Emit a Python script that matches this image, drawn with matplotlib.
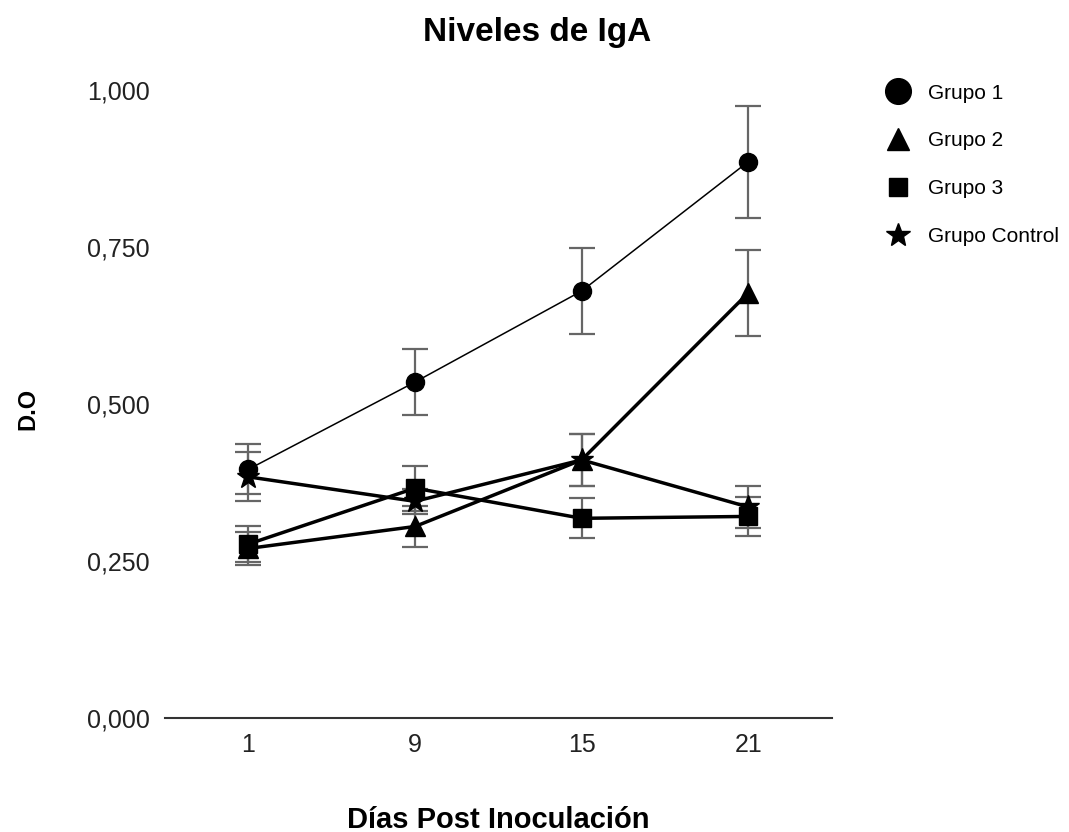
import matplotlib
matplotlib.use("Agg")
import matplotlib.pyplot as plt
from matplotlib.lines import Line2D
import numpy as np

plt.rcParams['font.family'] = ['Liberation Sans', 'DejaVu Sans']

days = ["1", "9", "15", "21"]
g1 = [0.396, 0.535, 0.680, 0.886]
g1_err = [0.040, 0.052, 0.068, 0.089]
g2 = [0.270, 0.305, 0.411, 0.677]
g2_err = [0.026, 0.032, 0.041, 0.068]
g3 = [0.277, 0.366, 0.318, 0.321]
g3_err = [0.028, 0.036, 0.032, 0.031]
gc = [0.384, 0.345, 0.411, 0.336]
gc_err = [0.039, 0.020, 0.041, 0.033]
y_ticks = [0.0, 0.25, 0.5, 0.75, 1.0]
labels = ["Grupo 1", "Grupo 2", "Grupo 3", "Grupo Control"]

fig = plt.figure(figsize=(10.69, 8.32), dpi=100)
ax = fig.add_axes([0.1544, 0.137, 0.6236, 0.7548])
x = np.arange(len(days))

series = [(g1, g1_err, 'o', 1.1, 13), (g2, g2_err, '^', 2.5, 15),
          (g3, g3_err, 's', 2.5, 13), (gc, gc_err, '*', 2.5, 17)]
for (vals, err, mk, lw, ms) in series:
    ax.errorbar(x, vals, yerr=err, fmt='none', ecolor='#666666', elinewidth=1.6,
                capsize=9.5, capthick=1.6, zorder=2)
    ax.plot(x, vals, color='black', lw=lw, marker=mk, markersize=ms, zorder=3)

ax.set_xlim(-0.5, 3.5)
ax.set_ylim(0, 1.0)
ax.set_xticks(x)
ax.set_xticklabels(days)
ax.set_yticks(y_ticks)
ax.set_yticklabels([f"{v:.3f}".replace('.', ',') for v in y_ticks])
for s in ['top', 'right', 'left']:
    ax.spines[s].set_visible(False)
ax.spines['bottom'].set_linewidth(1.5)
ax.spines['bottom'].set_color('#333333')
ax.tick_params(axis='both', length=0, labelsize=18, colors='#222222')
ax.tick_params(axis='y', pad=11)
ax.tick_params(axis='x', pad=11)

fig.text(0.5023, 0.961, "Niveles de IgA", ha='center', va='center',
         fontsize=24, fontweight='bold')
fig.text((165 + 832) / 2 / 1069, 0.005, "Días Post Inoculación", ha='center',
         va='baseline', fontsize=21, fontweight='bold')
fig.text(28 / 1069, 0.508, "D.O", ha='center', va='center', rotation=90,
         fontsize=17, fontweight='bold')

handles = [Line2D([], [], ls='none', marker=m, color='black', markersize=s)
           for m, s in [('o', 18.5), ('^', 16.5), ('s', 13), ('*', 18)]]
fig.legend(handles, labels, loc='upper left', bbox_to_anchor=(0.811, 0.922),
           frameon=False, fontsize=15, labelspacing=1.38, handletextpad=0.84,
           handlelength=1.2)

fig.savefig("out.png", dpi=100)
